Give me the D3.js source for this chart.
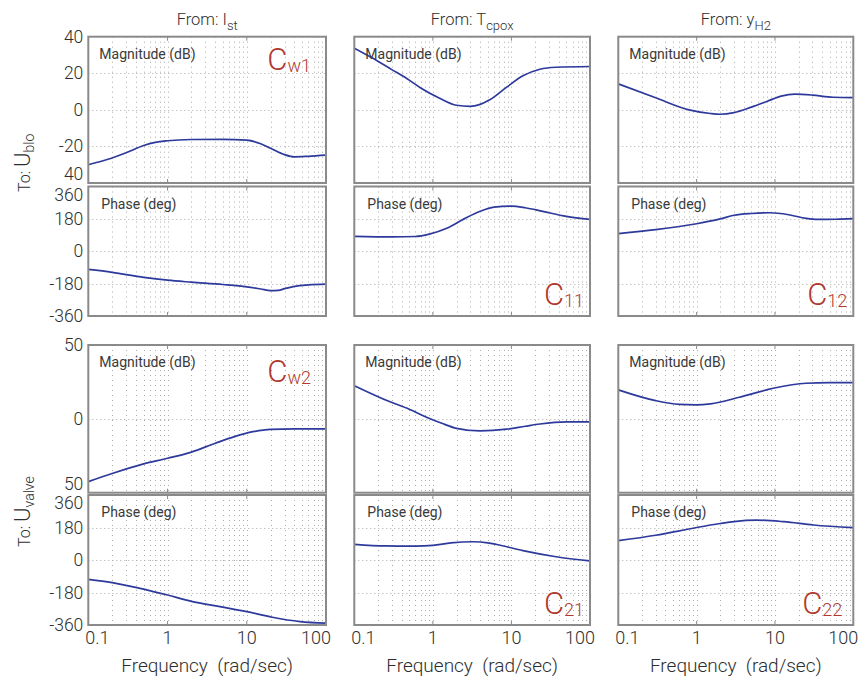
<!DOCTYPE html>
<html>
<head>
<meta charset="utf-8">
<script src="https://cdn.jsdelivr.net/npm/d3@7"></script>
<style>
  body { margin: 0; background: #fff; }
  svg text { font-family: Roboto, "Liberation Sans", Arial, sans-serif; font-weight: 300; fill: #2e2e2e; }
  svg text.panel-title { font-weight: 400; fill: #3a3a3a; }
</style>
</head>
<body>
<svg id="chart" width="868" height="679"></svg>
<script>
// ---- frequency axis ----
const freqDomain = [0.1, 100];
const freqTicks = [0.1, 1, 10, 100];
const freqTickLabels = ["0.1", "1", "10", "100"];
const freqTitle = "Frequency  (rad/sec)";

// ---- input channels (columns) and output channels (rows) ----
const inputNames = ["I", "T", "y"];
const inputSubs = ["st", "cpox", "H2"];
const outputNames = ["U", "U"];
const outputSubs = ["blo", "valve"];

// ---- y ticks ----
const magTicksBlo = [40, 20, 0, -20, -40];
const magTickLabelsBlo = ["40", "20", "0", "-20", "40"];
const magTicksValve = [50, 0, -50];
const magTickLabelsValve = ["50", "0", "50"];
const phaseTicks = [360, 180, 0, -180, -360];
const phaseTickLabels = ["360", "180", "0", "-180", "-360"];

// ---- frequency responses: [frequency (rad/s), value] ----
const magBloIst = [[0.1,-30],[0.15,-28],[0.2,-26.3],[0.3,-23.5],[0.5,-19.5],[0.7,-17.8],[1,-16.9],[2,-16.2],[5,-16.1],[10,-16.6],[15,-18.5],[20,-21],[30,-24.5],[40,-25.7],[60,-25.4],[100,-24.8]];
const phaseBloIst = [[0.1,-101],[0.2,-117],[0.5,-145],[1,-161],[2,-172],[5,-185],[10,-198],[15,-210],[20,-219],[25,-218],[30,-208],[40,-195],[60,-187],[100,-183]];
const magBloTcpox = [[0.1,33.7],[0.17,28.3],[0.3,22],[0.46,17.3],[0.7,12],[1.2,6.5],[2,2.5],[3,1.9],[4,3],[5.3,5.5],[8.7,12.4],[14,18.6],[23,22.2],[37,23.3],[100,23.7]];
const phaseBloTcpox = [[0.1,83],[0.3,80],[0.6,82],[0.9,95],[1.5,128],[2.5,180],[4,222],[6,245],[10,251],[15,242],[25,222],[50,194],[100,177]];
const magBloYh2 = [[0.1,14.2],[0.3,6.6],[0.8,0],[1.5,-2],[2,-2.4],[3,-1.5],[5,1.5],[8,4.7],[12,7.5],[18,8.6],[30,8.1],[55,6.9],[100,6.7]];
const phaseBloYh2 = [[0.1,98],[0.3,120],[1,153],[2,180],[3,200],[5,210],[8.6,214],[15,203],[25,183],[35,177],[60,178],[100,181]];
const magValveIst = [[0.1,-42.5],[0.2,-37],[0.5,-30.5],[1,-26.7],[2,-22.5],[4,-16.5],[7,-12],[12,-8.7],[20,-7.1],[40,-6.8],[100,-6.8]];
const phaseValveIst = [[0.1,-107],[0.2,-125],[0.45,-157],[1,-194],[2,-229],[4.6,-258],[10,-286],[21,-317],[47,-341],[100,-350]];
const magValveTcpox = [[0.1,22.5],[0.28,11.7],[0.5,6.5],[0.83,1.1],[1.3,-3],[2,-6.4],[4,-8.2],[8.7,-7],[15,-5],[23,-3.5],[50,-2.1],[100,-2.1]];
const phaseValveTcpox = [[0.1,87],[0.25,78],[0.6,77],[1,81],[1.7,95],[3.3,101],[5,95],[6.5,86],[14,52],[37,18],[100,-5]];
const magValveYh2 = [[0.1,19.6],[0.3,12.3],[0.6,9.8],[1,9.5],[1.5,10.2],[3.5,14.6],[9.5,20.7],[25,24.1],[50,24.5],[100,24.5]];
const phaseValveYh2 = [[0.1,107],[0.3,137],[1,180],[2,202],[3,213],[5.8,221],[13,212],[31,194],[100,179]];

// ---- controller tags ----
const tagMain = "C";
const tagSubsBlo = ["w1", "11", "12"];
const tagSubsValve = ["w2", "21", "22"];

const magSeries = [[magBloIst, magBloTcpox, magBloYh2], [magValveIst, magValveTcpox, magValveYh2]];
const phaseSeries = [[phaseBloIst, phaseBloTcpox, phaseBloYh2], [phaseValveIst, phaseValveTcpox, phaseValveYh2]];
const magTickSets = [[magTicksBlo, magTickLabelsBlo], [magTicksValve, magTickLabelsValve]];
const tagSubs = [tagSubsBlo, tagSubsValve];

// ---- layout ----
const colX = [[88.3, 326], [354.3, 590], [618.3, 853.3]];
const rowY = [[36.7, 183], [186.5, 316], [345, 492.7], [495, 625]];
const lineColor = "#2d3a9c";
const tagColor = "#b0392f";
const gridColor = "#ababab";
const frameColor = "#8a8a8a";

const svg = d3.select("#chart");
let clipId = 0;

function drawPanel(opts) {
  const { x0, x1, y0, y1, ticks, labels, series, title, showY, showX, tag, tagPos, labelShift } = opts;
  const x = d3.scaleLog().domain(freqDomain).range([x0, x1]);
  const y = d3.scaleLinear().domain([ticks[ticks.length - 1], ticks[0]]).range([y1, y0]);
  const g = svg.append("g");

  // vertical grid at every decade subdivision
  const minor = [];
  for (let e = -1; e <= 1; e++) for (let k = 1; k <= 9; k++) minor.push(k * Math.pow(10, e));
  g.append("g").selectAll("line").data(minor.filter(v => v > freqDomain[0]))
    .join("line")
    .attr("x1", d => Math.round(x(d)) + 0.5).attr("x2", d => Math.round(x(d)) + 0.5)
    .attr("y1", y0).attr("y2", y1)
    .attr("stroke", gridColor).attr("stroke-width", 1).attr("stroke-dasharray", "1,4");

  // horizontal grid at the y ticks
  g.append("g").selectAll("line").data(ticks.slice(1, -1))
    .join("line")
    .attr("x1", x0).attr("x2", x1)
    .attr("y1", d => Math.round(y(d)) + 0.5).attr("y2", d => Math.round(y(d)) + 0.5)
    .attr("stroke", gridColor).attr("stroke-width", 1).attr("stroke-dasharray", "1,3");

  // inward tick marks along the frequency axis
  const tk = g.append("g").attr("stroke", frameColor).attr("stroke-width", 1);
  freqTicks.slice(1, -1).forEach(v => {
    tk.append("line").attr("x1", x(v)).attr("x2", x(v)).attr("y1", y0).attr("y2", y0 + 4);
    tk.append("line").attr("x1", x(v)).attr("x2", x(v)).attr("y1", y1).attr("y2", y1 - 4);
  });

  // response curve
  const cid = "clip" + (clipId++);
  g.append("clipPath").attr("id", cid).append("rect")
    .attr("x", x0).attr("y", y0).attr("width", x1 - x0).attr("height", y1 - y0);
  const line = d3.line().x(d => x(d[0])).y(d => y(d[1])).curve(d3.curveMonotoneX);
  g.append("path").datum(series)
    .attr("clip-path", `url(#${cid})`)
    .attr("fill", "none").attr("stroke", lineColor).attr("stroke-width", 1.7)
    .attr("d", line);

  // frame
  g.append("rect").attr("x", x0).attr("y", y0).attr("width", x1 - x0).attr("height", y1 - y0)
    .attr("fill", "none").attr("stroke", frameColor).attr("stroke-width", 2);

  // panel title
  g.append("text").attr("class", "panel-title")
    .attr("x", x0 + title.dx).attr("y", y0 + title.dy)
    .attr("font-size", 14).text(title.text);

  // y tick labels
  if (showY) {
    g.append("g").selectAll("text").data(ticks)
      .join("text")
      .attr("x", x0 - 5)
      .attr("y", (d, i) => y(d) + (labelShift[i] || 0))
      .attr("text-anchor", "end").attr("dominant-baseline", "central")
      .attr("font-size", 17.5)
      .text((d, i) => labels[i]);
  }

  // frequency tick labels and axis title
  if (showX) {
    const edge = [9, 0, 0, -10];
    g.append("g").selectAll("text").data(freqTicks)
      .join("text")
      .attr("x", (d, i) => x(d) + edge[i]).attr("y", y1 + 19)
      .attr("text-anchor", "middle").attr("font-size", 18)
      .text((d, i) => freqTickLabels[i]);
    g.append("text").attr("x", (x0 + x1) / 2).attr("y", 672)
      .attr("text-anchor", "middle").attr("font-size", 19)
      .style("white-space", "pre").text(freqTitle);
  }

  // controller tag
  if (tag) {
    const t = g.append("text").attr("x", x1 - tagPos.right).attr("y", tagPos.baseline)
      .attr("text-anchor", "end").style("fill", tagColor);
    t.append("tspan").attr("font-size", 31).text(tagMain);
    t.append("tspan").attr("font-size", 18).attr("dy", 2).text(tag);
  }
}

for (let r = 0; r < 2; r++) {
  const [my0, my1] = rowY[2 * r];
  const [py0, py1] = rowY[2 * r + 1];
  for (let c = 0; c < 3; c++) {
    const [x0, x1] = colX[c];
    const mag = magTickSets[r];
    const magShift = mag[0].map((d, i) => i === mag[0].length - 1 ? -9 : 0);
    drawPanel({
      x0, x1, y0: my0, y1: my1, ticks: mag[0], labels: mag[1], series: magSeries[r][c],
      title: { text: "Magnitude (dB)", dx: 11, dy: 22 },
      showY: c === 0, showX: false, labelShift: magShift,
      tag: c === 0 ? tagSubs[r][c] : null,
      tagPos: { right: 15, baseline: my0 + 33 + 4 * r }
    });
    const phShift = phaseTicks.map((d, i) => i === 0 ? 8 : 0);
    drawPanel({
      x0, x1, y0: py0, y1: py1, ticks: phaseTicks, labels: phaseTickLabels, series: phaseSeries[r][c],
      title: { text: "Phase (deg)", dx: 13, dy: 22 },
      showY: c === 0, showX: r === 1, labelShift: phShift,
      tag: c > 0 ? tagSubs[r][c] : null,
      tagPos: { right: c === 2 && r === 1 ? 11 : 6, baseline: py1 - 11 }
    });
  }
}

// column titles
colX.forEach(([x0, x1], c) => {
  const t = svg.append("text").attr("x", (x0 + x1) / 2).attr("y", 25)
    .attr("text-anchor", "middle").attr("font-size", 16.5);
  t.append("tspan").text("From: " + inputNames[c]);
  t.append("tspan").attr("font-size", 13).attr("dy", 5).text(inputSubs[c]);
});

// row titles
const rowLabelStart = [192, 547];
outputNames.forEach((name, r) => {
  const t = svg.append("text")
    .attr("transform", `translate(30,${rowLabelStart[r]}) rotate(-90)`)
    .attr("font-size", 16);
  t.append("tspan").text("To: ");
  t.append("tspan").attr("font-size", 22).text(name);
  t.append("tspan").attr("font-size", 14).attr("dy", 4).text(outputSubs[r]);
});
</script>
</body>
</html>
